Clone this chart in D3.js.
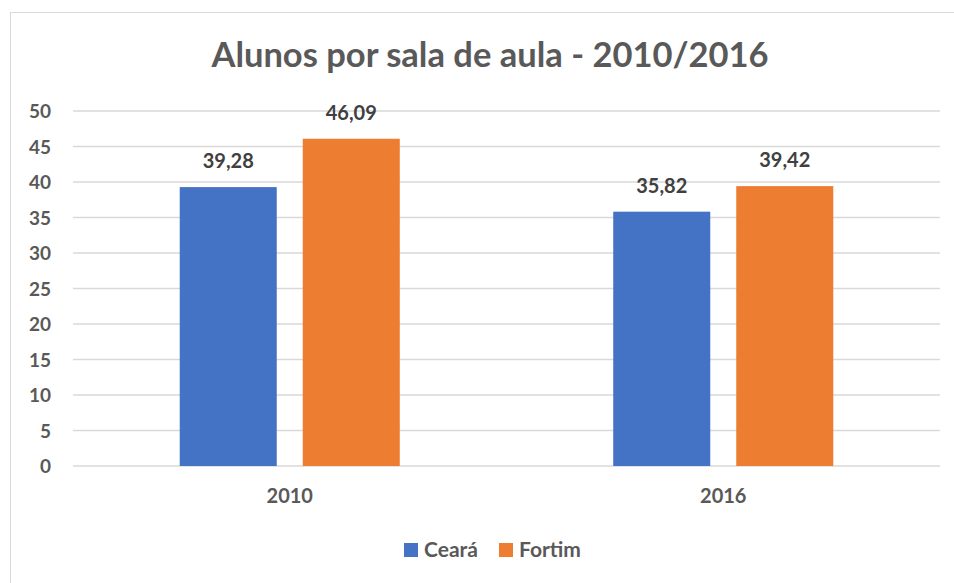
<!DOCTYPE html>
<html>
<head>
<meta charset="utf-8">
<script src="https://cdn.jsdelivr.net/npm/d3@7"></script>
<style>
  body { margin: 0; background: #fff; }
  text { font-family: Lato, "Open Sans", sans-serif; font-weight: bold; }
</style>
</head>
<body>
<div id="chart"></div>
<script>
// data
var Categories = ["2010", "2016"];
var SeriesNames = ["Ceará", "Fortim"];
var Ceara = [39.28, 35.82];
var Fortim = [46.09, 39.42];
var YTicks = [0, 5, 10, 15, 20, 25, 30, 35, 40, 45, 50];
var Colors = ["#4472C4", "#ED7D31"];

var Width = 954, Height = 583;
var Margin = { top: 111, right: 14, bottom: 117, left: 73 };

var Svg = d3.select("#chart").append("svg")
    .attr("width", Width)
    .attr("height", Height);

// chart frame (right and bottom edges run off the picture)
Svg.append("rect")
    .attr("x", 10.5).attr("y", 12.5)
    .attr("width", 960).attr("height", 600)
    .attr("fill", "#fff")
    .attr("stroke", "#d9d9d9");

var X = d3.scaleBand()
    .domain(Categories)
    .range([Margin.left, Width - Margin.right]);

var Y = d3.scaleLinear()
    .domain([0, 50])
    .range([Height - Margin.bottom, Margin.top]);

// bar geometry: two bars plus a small gap in the middle of each band
var BarW = X.bandwidth() * 0.2238;
var InnerGap = BarW * 0.268;
var GroupW = BarW * 2 + InnerGap;

// gridlines
Svg.append("g")
    .selectAll("line")
    .data(YTicks)
    .enter()
    .append("line")
    .attr("x1", Margin.left)
    .attr("x2", Width - Margin.right)
    .attr("y1", d => Y(d))
    .attr("y2", d => Y(d))
    .attr("stroke", "#d9d9d9")
    .attr("stroke-width", 1.5);

// y axis labels
var YAxis = d3.axisLeft(Y).tickValues(YTicks).tickSize(0).tickPadding(0);
var YG = Svg.append("g")
    .attr("transform", "translate(51,0)")
    .call(YAxis);
YG.select(".domain").remove();
YG.selectAll("text")
    .attr("fill", "#595959")
    .attr("font-size", 19)
    .attr("dy", "0.36em")
    .style("font-family", "Lato, sans-serif");

// x axis labels
var XAxis = d3.axisBottom(X).tickSize(0).tickPadding(0);
var XG = Svg.append("g")
    .attr("transform", "translate(0," + (Height - Margin.bottom + 30) + ")")
    .call(XAxis);
XG.select(".domain").remove();
XG.selectAll("text")
    .attr("fill", "#595959")
    .attr("font-size", 20)
    .attr("dy", "0.36em")
    .style("font-family", "Lato, sans-serif");

var Rows = [];
Categories.forEach((c, i) => {
    Rows.push({ cat: c, s: 0, v: Ceara[i] });
    Rows.push({ cat: c, s: 1, v: Fortim[i] });
});

function BarX(d) {
    var Start = X(d.cat) + (X.bandwidth() - GroupW) / 2;
    return Start + d.s * (BarW + InnerGap);
}

Svg.append("g")
    .selectAll("rect")
    .data(Rows)
    .enter()
    .append("rect")
    .attr("x", d => BarX(d))
    .attr("y", d => Y(d.v))
    .attr("width", BarW)
    .attr("height", d => Y(0) - Y(d.v))
    .attr("fill", d => Colors[d.s]);

// data labels
Svg.append("g")
    .selectAll("text")
    .data(Rows)
    .enter()
    .append("text")
    .attr("x", d => BarX(d) + BarW / 2)
    .attr("y", d => Y(d.v) - 19)
    .attr("text-anchor", "middle")
    .attr("font-size", 20)
    .attr("fill", "#404040")
    .text(d => d.v.toFixed(2).replace(".", ","));

// title
Svg.append("text")
    .attr("x", 490)
    .attr("y", 67)
    .attr("text-anchor", "middle")
    .attr("font-size", 34.5)
    .attr("fill", "#595959")
    .text("Alunos por sala de aula - 2010/2016");

// legend
var Legend = Svg.append("g");
var LegendX = [404, 499];
SeriesNames.forEach((name, i) => {
    Legend.append("rect")
        .attr("x", LegendX[i]).attr("y", 543)
        .attr("width", 14).attr("height", 14)
        .attr("fill", Colors[i]);
    Legend.append("text")
        .attr("x", LegendX[i] + 20)
        .attr("y", 557)
        .attr("font-size", 21)
        .attr("fill", "#595959")
        .text(name);
});
</script>
</body>
</html>
